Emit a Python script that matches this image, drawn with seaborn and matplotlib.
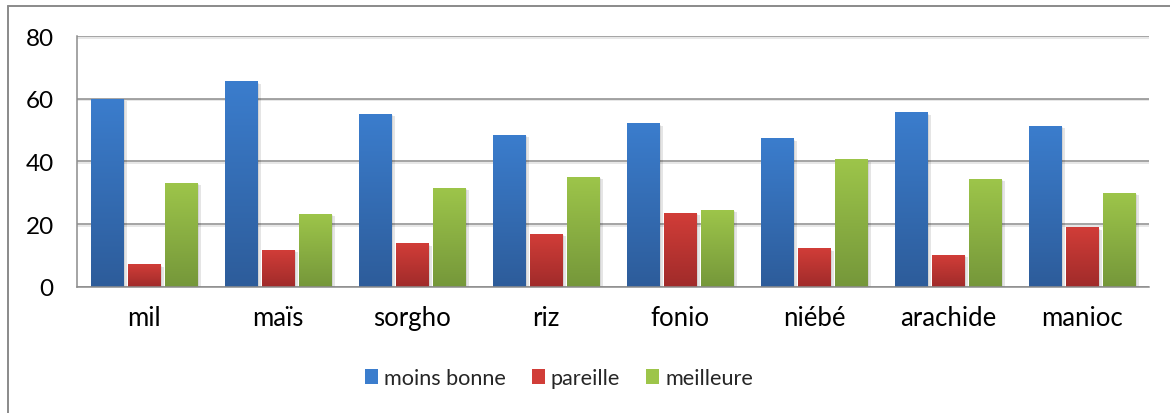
import numpy as np
import pandas as pd
import matplotlib
matplotlib.use("Agg")
import matplotlib.pyplot as plt
import matplotlib.patheffects as pe
from matplotlib.lines import Line2D
from matplotlib.patches import Patch
from matplotlib.colors import LinearSegmentedColormap
import seaborn as sns

# ---- data ----
categories = ["mil", "maïs", "sorgho", "riz", "fonio", "niébé", "arachide", "manioc"]
series_names = ["moins bonne", "pareille", "meilleure"]
moins_bonne = [60.0, 65.5, 55.0, 48.3, 52.1, 47.3, 55.6, 51.2]
pareille = [7.1, 11.6, 13.8, 16.7, 23.4, 12.2, 10.0, 18.9]
meilleure = [33.0, 23.1, 31.4, 34.9, 24.4, 40.6, 34.3, 29.8]
y_ticks = [0, 20, 40, 60, 80]

# gradient colours (top, bottom)
grad = {
    "moins bonne": ("#3B7DCD", "#2D5C9A"),
    "pareille": ("#D13D38", "#A02B2A"),
    "meilleure": ("#9DC54A", "#75973A"),
}

df = pd.DataFrame({
    "culture": np.repeat(categories, 3),
    "appreciation": series_names * len(categories),
    "valeur": np.ravel(np.column_stack([moins_bonne, pareille, meilleure])),
})

sns.set_theme(style="white")
plt.rcParams["font.family"] = ["Lato", "DejaVu Sans"]

W, H = 1170, 414
fig = plt.figure(figsize=(W / 100, H / 100), dpi=100)
ax = fig.add_axes([77.3 / W, 1 - 287.7 / H, (1149.3 - 77.3) / W, (287.7 - 37) / H])

palette = [grad[s][0] for s in series_names]
sns.barplot(data=df, x="culture", y="valeur", hue="appreciation",
            hue_order=series_names, order=categories, palette=palette,
            width=0.83, gap=0.135, ax=ax, legend=False, zorder=3,
            saturation=1, edgecolor="none", linewidth=0)

ax.set_ylim(0, 80)
ax.set_xlim(-0.5, len(categories) - 0.5)
ax.set_yticks(y_ticks)
ax.set_yticklabels([str(t) for t in y_ticks])
ax.set_xlabel("")
ax.set_ylabel("")

# gradient fill + soft shadow on every bar
shadow = [pe.SimplePatchShadow(offset=(2.5, -1.5), shadow_rgbFace="#000000", alpha=0.10),
          pe.SimplePatchShadow(offset=(1.2, -0.8), shadow_rgbFace="#000000", alpha=0.08),
          pe.Normal()]
n_cat = len(categories)
for i, patch in enumerate(ax.patches):
    s = series_names[i // n_cat]
    top_c, bot_c = grad[s]
    cmap = LinearSegmentedColormap.from_list(s, [bot_c, top_c])
    x0, y0 = patch.get_x(), patch.get_y()
    w, h = patch.get_width(), patch.get_height()
    patch.set_path_effects(shadow)
    img = ax.imshow(np.linspace(0, 1, 256).reshape(-1, 1), cmap=cmap, origin="lower",
                    extent=[x0, x0 + w, y0, y0 + h], aspect="auto", zorder=3.5,
                    interpolation="bilinear")
    img.set_clip_path(patch)
ax.set_xlim(-0.5, len(categories) - 0.5)
ax.set_ylim(0, 80)

# grid
ax.yaxis.grid(True, color="#8C8C8C", linewidth=1.1, zorder=1)
for gl in ax.get_ygridlines():
    gl.set_path_effects([pe.SimpleLineShadow(offset=(0, -1.2), shadow_color="#000000", alpha=0.12),
                         pe.Normal()])
ax.xaxis.grid(False)
ax.set_axisbelow(True)

for side in ["top", "right"]:
    ax.spines[side].set_visible(False)
for side in ["left", "bottom"]:
    ax.spines[side].set_visible(True)
    ax.spines[side].set_color("#8C8C8C")
    ax.spines[side].set_linewidth(1.1)
ax.spines["bottom"].set_zorder(4)

ax.tick_params(axis="y", length=0, pad=17, labelsize=17.5, labelcolor="#000000")
ax.tick_params(axis="x", length=0, pad=13, labelsize=18.5, labelcolor="#000000")

# legend
handles = [Patch(facecolor=grad[s][0], edgecolor="none") for s in series_names]
leg = fig.legend(handles, series_names, loc="center",
                 bbox_to_anchor=(559 / W, 1 - 379 / H), ncol=3, frameon=False,
                 fontsize=15.6, handlelength=0.6, handleheight=0.69,
                 handletextpad=0.28, columnspacing=1.2, borderpad=0)

# outer chart frame
fig.add_artist(Line2D([8 / W, 1.0], [1 - 7.3 / H, 1 - 7.3 / H], color="#8A8A8A",
                      linewidth=1.4, transform=fig.transFigure))
fig.add_artist(Line2D([8 / W, 8 / W], [0.0, 1 - 7.3 / H], color="#8A8A8A",
                      linewidth=1.4, transform=fig.transFigure))

fig.savefig("out.png", dpi=100, facecolor="white")
